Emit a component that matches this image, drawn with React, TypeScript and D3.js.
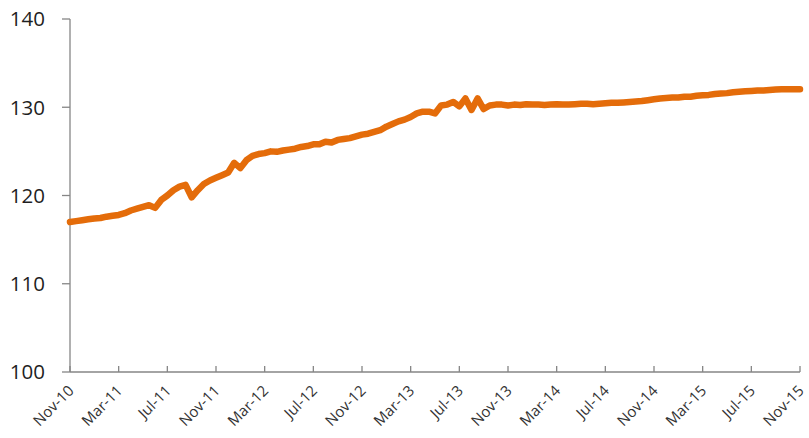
import React from 'react';
import * as d3 from 'd3';

// half-monthly readings, Nov-10 .. Nov-15
const startYear = 2010;
const startMonth = 10; // November (0-based)

const values = [
  117.0, 117.1, 117.2, 117.3, 117.4, 117.45, 117.6, 117.7, 117.8, 118.0,
  118.3, 118.5, 118.7, 118.9, 118.6, 119.5, 120.0, 120.6, 121.0, 121.2,
  119.8, 120.6, 121.3, 121.7, 122.0, 122.3, 122.6, 123.7, 123.1, 124.0,
  124.5, 124.7, 124.8, 125.0, 124.95, 125.1, 125.2, 125.3, 125.5, 125.6,
  125.8, 125.8, 126.1, 126.0, 126.3, 126.4, 126.5, 126.7, 126.9, 127.0,
  127.2, 127.4, 127.8, 128.1, 128.4, 128.6, 128.9, 129.3, 129.5, 129.5,
  129.3, 130.2, 130.3, 130.6, 130.1, 131.0, 129.7, 131.0, 129.8, 130.2,
  130.3, 130.3, 130.2, 130.3, 130.25, 130.35, 130.3, 130.3, 130.25, 130.3,
  130.35, 130.3, 130.3, 130.35, 130.4, 130.4, 130.35, 130.4, 130.45, 130.5,
  130.5, 130.55, 130.6, 130.65, 130.7, 130.8, 130.9, 131.0, 131.05, 131.1,
  131.1, 131.2, 131.2, 131.3, 131.35, 131.4, 131.5, 131.55, 131.6, 131.7,
  131.75, 131.8, 131.85, 131.9, 131.9, 131.95, 132.0, 132.05, 132.05, 132.05,
  132.05,
];

const yTicks = [100, 110, 120, 130, 140];
const xTickLabels = [
  'Nov-10', 'Mar-11', 'Jul-11', 'Nov-11', 'Mar-12', 'Jul-12', 'Nov-12', 'Mar-13',
  'Jul-13', 'Nov-13', 'Mar-14', 'Jul-14', 'Nov-14', 'Mar-15', 'Jul-15', 'Nov-15',
];

const width = 809;
const height = 438;
const margin = { top: 19, right: 9, bottom: 66, left: 70 };
const font = "'Open Sans', 'Liberation Sans', sans-serif";

const App = () => {
  const dateOf = (k: number) =>
    new Date(startYear, startMonth + Math.floor(k / 2), k % 2 ? 16 : 1);
  const data = values.map((v, k) => ({ date: dateOf(k), value: v }));

  // tick spacing in the picture is even per 4 months, so position by month index
  const monthIndex = (d: Date) =>
    (d.getFullYear() - startYear) * 12 + d.getMonth() - startMonth + (d.getDate() - 1) / 30;

  const x = d3.scaleLinear()
    .domain([0, (xTickLabels.length - 1) * 4])
    .range([margin.left, width - margin.right]);
  const y = d3.scaleLinear()
    .domain([100, 140])
    .range([height - margin.bottom, margin.top]);

  const line = d3.line<{ date: Date; value: number }>()
    .x(d => x(monthIndex(d.date)))
    .y(d => y(d.value));

  const axisColor = '#868686';
  const bottom = y(100);

  return (
    <svg width={width} height={height}
      style={{ position: 'absolute', left: 0, top: 0, background: '#fff' }}>
      {/* y axis */}
      <line x1={margin.left} x2={margin.left} y1={y(140)} y2={bottom}
        stroke={axisColor} strokeWidth={1.3} />
      {yTicks.map(t => (
        <g key={t} transform={`translate(0,${y(t)})`}>
          <line x1={margin.left - 8} x2={margin.left} stroke={axisColor} strokeWidth={1.3} />
          <text x={45} dy="0.36em" textAnchor="end" fontSize={20.5}
            fontFamily={font} fill="#1f1f1f">{t}</text>
        </g>
      ))}

      {/* x axis */}
      <line x1={margin.left} x2={width - margin.right} y1={bottom} y2={bottom}
        stroke={axisColor} strokeWidth={1.3} />
      {xTickLabels.map((lab, i) => (
        <g key={lab} transform={`translate(${x(i * 4)},${bottom})`}>
          <line y1={-6} y2={0} stroke={axisColor} strokeWidth={1.3} />
          <text transform="translate(1,16) rotate(-45)" textAnchor="end" dy="0.35em"
            fontSize={15} fontFamily={font} fill="#333">{lab}</text>
        </g>
      ))}

      <path d={line(data) ?? ''} fill="none" stroke="#E46C0A" strokeWidth={6.5}
        strokeLinejoin="round" strokeLinecap="round" />
    </svg>
  );
};

export default App;
